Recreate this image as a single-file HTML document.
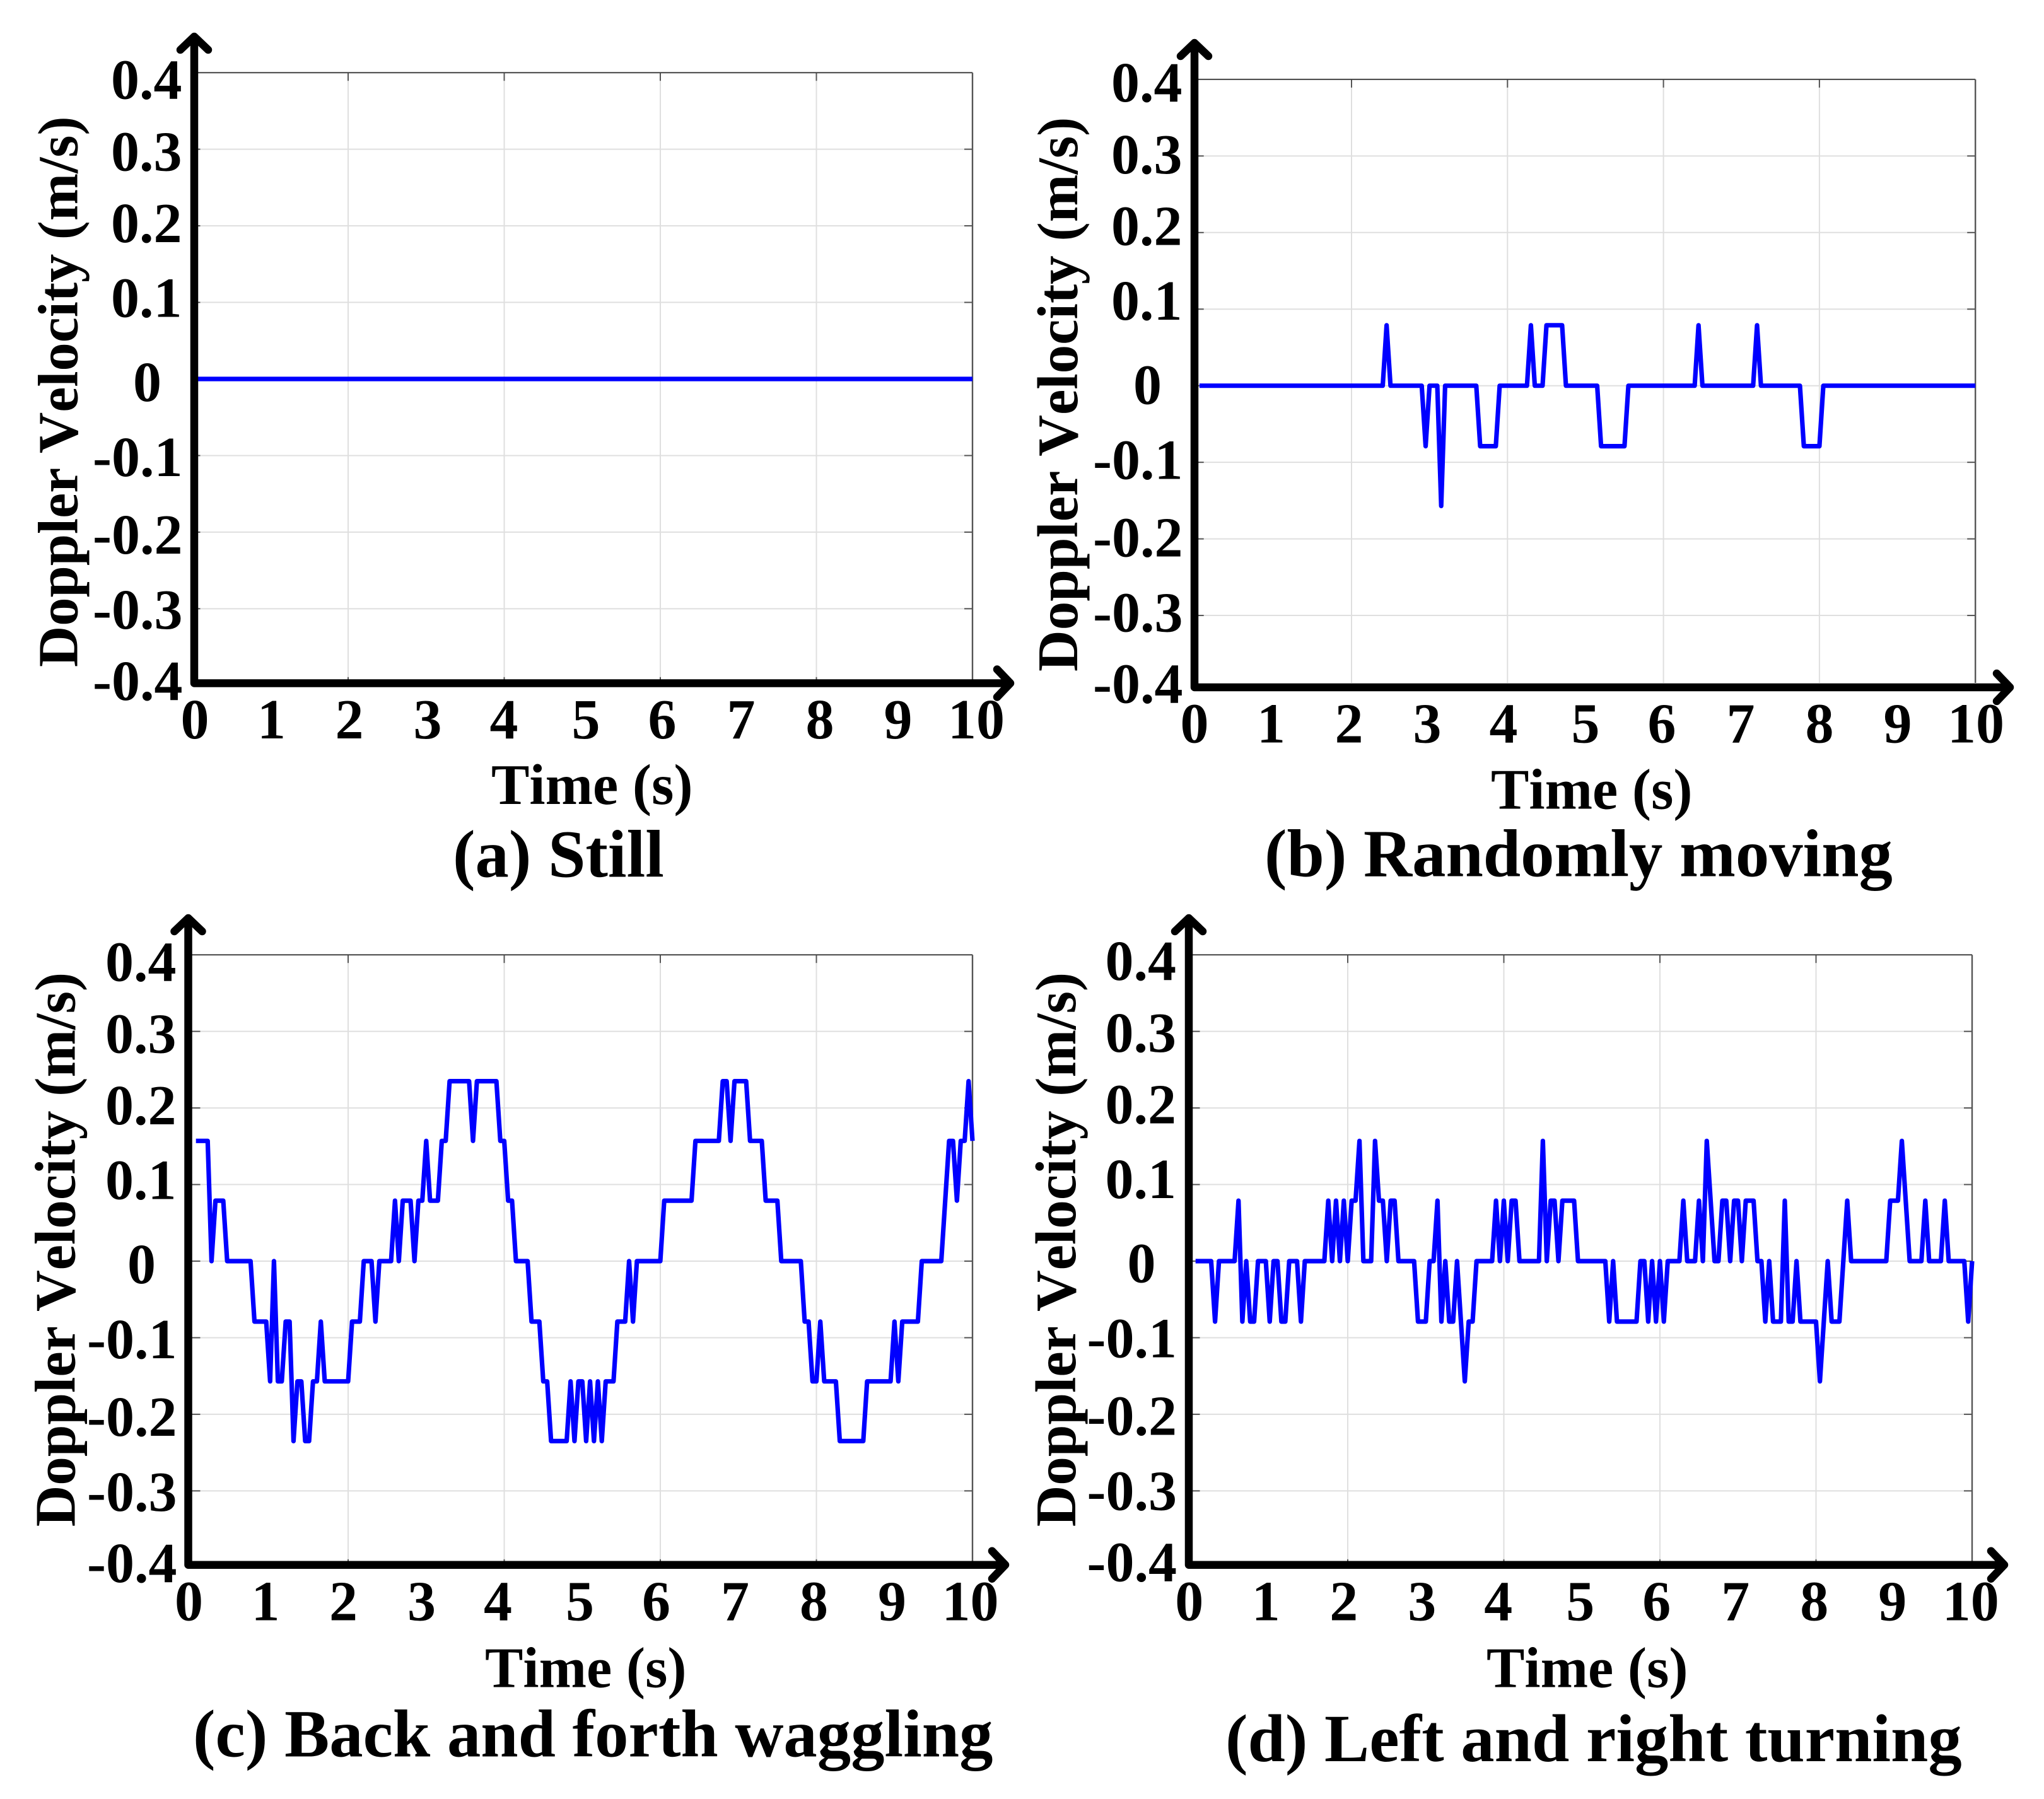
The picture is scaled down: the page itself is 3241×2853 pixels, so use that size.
<!DOCTYPE html>
<html lang="en">
<head>
<meta charset="utf-8">
<title>Doppler velocity panels</title>
<style>
  html, body { margin: 0; padding: 0; background: #fff; }
  svg { display: block; }
  text { font-family: "Liberation Serif", serif; font-weight: bold; fill: #000; font-kerning: none; }
  .tick { font-size: 90px; }
  .y-title { font-size: 90.4px; }
  .y-title-low { font-size: 91px; }
  .x-title { font-size: 90.6px; }
  .caption { font-size: 106.7px; }
</style>
</head>
<body>
<svg id="figure" xmlns="http://www.w3.org/2000/svg" width="3241" height="2853" viewBox="0 0 3241 2853">
  <rect x="0" y="0" width="3241" height="2853" fill="#fff"/>
  <g id="plots"></g>

  <text class="y-title" transform="translate(122.5 1058) rotate(-90)">Doppler Velocity (m/s)</text>
  <text class="y-title-low" transform="translate(1708 1065) rotate(-90)">Doppler Velocity (m/s)</text>
  <text class="y-title-low" transform="translate(118.3 2421.3) rotate(-90)">Doppler Velocity (m/s)</text>
  <text class="y-title-low" transform="translate(1704.8 2421.3) rotate(-90)">Doppler Velocity (m/s)</text>

  <text class="x-title" x="779" y="1275">Time (s)</text>
  <text class="x-title" x="2364" y="1282.3">Time (s)</text>
  <text class="x-title" x="769" y="2675.7">Time (s)</text>
  <text class="x-title" x="2357" y="2675.7">Time (s)</text>

  <text class="caption" x="718" y="1390.7">(a) Still</text>
  <text class="caption" x="2005" y="1389.3">(b) Randomly moving</text>
  <text class="caption" x="306" y="2785.3">(c) Back and forth waggling</text>
  <text class="caption" x="1943" y="2793">(d) Left and right turning</text>
</svg>

<script>
// Chart data: sample numbers (one sample every 0.05 s) and velocity in m/s at each breakpoint.
const sampleStep = 0.05;
const xTickValues = [0,1,2,3,4,5,6,7,8,9,10];
const xTickLabels = ['0','1','2','3','4','5','6','7','8','9','10'];
const xGridValues = [2,4,6,8];
const yTickValues = [0.4,0.3,0.2,0.1,0,-0.1,-0.2,-0.3,-0.4];
const yTickLabels = ['0.4','0.3','0.2','0.1','0','-0.1','-0.2','-0.3','-0.4'];

const samplesA = [1,200];
const velocityA = [0,0];

const samplesB = [1,48,49,50,58,59,60,62,63,64,
  72,73,77,78,85,86,87,89,90,94,
  95,103,104,110,111,128,129,130,143,144,
  145,155,156,160,161,200];
const velocityB = [0,0,.079,0,0,-.079,0,0,-.157,0,
  0,-.079,-.079,0,0,.079,0,0,.079,.079,
  0,0,-.079,-.079,0,0,.079,0,0,.079,
  0,0,-.079,-.079,0,0];

const samplesC = [1,4,5,6,8,9,15,16,19,20,
  21,22,23,24,25,26,27,28,29,30,
  31,32,33,34,40,41,43,44,46,47,
  48,51,52,53,54,56,57,58,59,60,
  61,63,64,65,66,71,72,73,78,79,
  80,81,82,83,86,87,89,90,91,92,
  96,97,98,99,100,101,102,103,104,105,
  106,108,109,111,112,113,114,120,121,128,
  129,135,136,137,138,139,142,143,146,147,
  150,151,156,157,158,159,160,161,162,165,
  166,172,173,179,180,181,182,186,187,192,
  194,195,196,197,198,199,200];
const velocityC = [.157,.157,0,.079,.079,0,0,-.079,-.079,-.157,
  0,-.157,-.157,-.079,-.079,-.235,-.157,-.157,-.235,-.235,
  -.157,-.157,-.079,-.157,-.157,-.079,-.079,0,0,-.079,
  0,0,.079,0,.079,.079,0,.079,.079,.157,
  .079,.079,.157,.157,.235,.235,.157,.235,.235,.157,
  .157,.079,.079,0,0,-.079,-.079,-.157,-.157,-.235,
  -.235,-.157,-.235,-.157,-.157,-.235,-.157,-.235,-.157,-.235,
  -.157,-.157,-.079,-.079,0,-.079,0,0,.079,.079,
  .157,.157,.235,.235,.157,.235,.235,.157,.157,.079,
  .079,0,0,-.079,-.079,-.157,-.157,-.079,-.157,-.157,
  -.235,-.235,-.157,-.157,-.079,-.157,-.079,-.079,0,0,
  .157,.157,.079,.157,.157,.235,.157];

const samplesD = [1,5,6,7,11,12,13,14,15,16,
  17,19,20,21,22,23,24,25,27,28,
  29,34,35,36,37,38,39,40,41,42,
  43,44,46,47,48,49,50,51,52,53,
  57,58,60,61,62,63,64,65,66,67,
  68,70,71,72,73,77,78,79,80,81,
  82,83,84,89,90,91,92,93,94,95,
  98,99,106,107,108,109,114,115,116,117,
  118,119,120,121,122,125,126,127,129,130,
  131,132,134,135,136,137,138,139,140,141,
  142,144,145,146,147,148,149,151,152,153,
  154,155,156,160,161,163,164,166,167,168,
  169,178,179,181,182,184,187,188,189,192,
  193,194,198,199,200];
const velocityD = [0,0,-.079,0,0,.079,-.079,0,-.079,-.079,
  0,0,-.079,0,0,-.079,-.079,0,0,-.079,
  0,0,.079,0,.079,0,.079,0,.079,.079,
  .157,0,0,.157,.079,.079,0,.079,.079,0,
  0,-.079,-.079,0,0,.079,-.079,0,-.079,-.079,
  0,-.157,-.079,-.079,0,0,.079,0,.079,0,
  .079,.079,0,0,.157,0,.079,.079,0,.079,
  .079,0,0,-.079,0,-.079,-.079,0,0,-.079,
  0,-.079,0,-.079,0,0,.079,0,0,.079,
  0,.157,0,0,.079,.079,0,.079,.079,0,
  .079,.079,0,0,-.079,0,-.079,-.079,.079,-.079,
  -.079,0,-.079,-.079,-.157,0,-.079,-.079,0,.079,
  0,0,.079,.079,.157,0,0,.079,0,0,
  .079,0,0,-.079,0];

// Layout
const SVG_NS = 'http://www.w3.org/2000/svg';
const yScale = 1214.5;
const xScaleDefault = 123.75;
const xLabelNudge = [4.5,2.25,2,2.25,-0.5,5.75,3,4.25,5.5,5.75,6];
const yLabelNudge = [41.5,34,25.9,22.9,35,32.5,34.1,31.6,23.2];
const yLabelLeft = [176,176,176,176,211,147,147,147,147];

const panels = [
  { id:'a', samples:samplesA, velocity:velocityA, x0:304.5, unit:123.75, y0:601, plotBottom:1080,
    axisX:308, axisY:1083.5, tipY:58, tipX:1602, labelX0:304.5, labelY0:601, leftShift:0, xBase:1171 },
  { id:'b', samples:samplesB, velocity:velocityB, x0:1895.7, unit:123.65, y0:611.7, plotBottom:1083,
    axisX:1894, axisY:1090, tipY:68, tipX:3187, labelX0:1889.5, labelY0:605.5, leftShift:1586, xBase:1177.3 },
  { id:'c', samples:samplesC, velocity:velocityC, x0:304.5, unit:123.75, y0:2000, plotBottom:2478,
    axisX:298.5, axisY:2481.7, tipY:1456, tipX:1594, labelX0:295, labelY0:2000, leftShift:-9, xBase:2569.7 },
  { id:'d', samples:samplesD, velocity:velocityD, x0:1889.5, unit:123.75, y0:2000, plotBottom:2478,
    axisX:1885, axisY:2481.7, tipY:1456, tipX:3178, labelX0:1881.3, labelY0:1998.5, leftShift:1576.5, xBase:2569.7 }
];

const plots = document.getElementById('plots');

function make(tag, parent, name, attrs) {
  const el = document.createElementNS(SVG_NS, tag);
  
  
  for (const k in attrs) el.setAttribute(k, attrs[k]);
  parent.appendChild(el);
  return el;
}

function drawPanel(p) {
  const xAxis = t => p.x0 + t * p.unit;
  const yAxis = v => p.y0 - v * yScale;
  const left = xAxis(0), right = xAxis(10), top = yAxis(0.4), bottomRaw = yAxis(-0.4);
  const bottom = Math.min(bottomRaw, p.plotBottom);
  const g = make('g', plots, 'panel-' + p.id, {});

  // gridlines
  yTickValues.forEach(v => {
    const y = yAxis(v);
    if (y > bottom || v === 0.4) return;
    make('line', g, 'y-gridline', { x1:left, x2:right, y1:y, y2:y, stroke:'#dfdfdf', 'stroke-width':2 });
    make('line', g, 'y-tick-left', { x1:left, x2:left+13, y1:y, y2:y, stroke:'#555', 'stroke-width':2 });
    make('line', g, 'y-tick-right', { x1:right-13, x2:right, y1:y, y2:y, stroke:'#555', 'stroke-width':2 });
  });
  xGridValues.forEach(t => {
    const x = xAxis(t);
    make('line', g, 'x-gridline', { x1:x, x2:x, y1:top, y2:bottom, stroke:'#dfdfdf', 'stroke-width':2 });
    make('line', g, 'x-tick-top', { x1:x, x2:x, y1:top, y2:top+13, stroke:'#555', 'stroke-width':2 });
    if (bottomRaw - 13 < bottom) {
      make('line', g, 'x-tick-bottom', { x1:x, x2:x, y1:bottomRaw-13, y2:bottom, stroke:'#555', 'stroke-width':2 });
    }
  });

  // frame
  make('line', g, 'frame-top', { x1:left, x2:right, y1:top, y2:top, stroke:'#444', 'stroke-width':2 });
  make('line', g, 'frame-right', { x1:right, x2:right, y1:top, y2:bottom, stroke:'#555', 'stroke-width':2.4 });

  // series
  const pts = p.samples.map((s, i) => xAxis(s * sampleStep).toFixed(1) + ',' + yAxis(p.velocity[i]).toFixed(1)).join(' ');
  make('polyline', g, 'velocity-line-' + p.id, { points:pts, fill:'none', stroke:'#0000ff', 'stroke-width':7.2, 'stroke-linejoin':'round' });

  // thick arrow axes
  const ax = p.axisX, ay = p.axisY;
  make('polyline', g, 'axes-lines', {
    points: ax + ',' + p.tipY + ' ' + ax + ',' + ay + ' ' + p.tipX + ',' + ay,
    fill:'none', stroke:'#000', 'stroke-width':12.5, 'stroke-linejoin':'round'
  });
  make('polyline', g, 'y-axis-arrow', {
    points: (ax-22) + ',' + (p.tipY+21) + ' ' + ax + ',' + p.tipY + ' ' + (ax+22) + ',' + (p.tipY+21),
    fill:'none', stroke:'#000', 'stroke-width':12.5, 'stroke-linejoin':'round', 'stroke-linecap':'round'
  });
  make('polyline', g, 'x-axis-arrow', {
    points: (p.tipX-21) + ',' + (ay-22) + ' ' + p.tipX + ',' + ay + ' ' + (p.tipX-21) + ',' + (ay+22),
    fill:'none', stroke:'#000', 'stroke-width':12.5, 'stroke-linejoin':'round', 'stroke-linecap':'round'
  });

  // tick labels
  xTickValues.forEach((t, i) => {
    const el = make('text', g, 'x-tick-label', {
      class:'tick', 'text-anchor':'middle',
      x: p.labelX0 + t * xScaleDefault + xLabelNudge[i],
      y: p.xBase
    });
    el.textContent = xTickLabels[i];
  });
  yTickValues.forEach((v, i) => {
    const el = make('text', g, 'y-tick-label', {
      class:'tick',
      x: yLabelLeft[i] + p.leftShift,
      y: p.labelY0 - v * yScale + yLabelNudge[i]
    });
    el.textContent = yTickLabels[i];
  });
}

panels.forEach(drawPanel);
</script>
</body>
</html>
